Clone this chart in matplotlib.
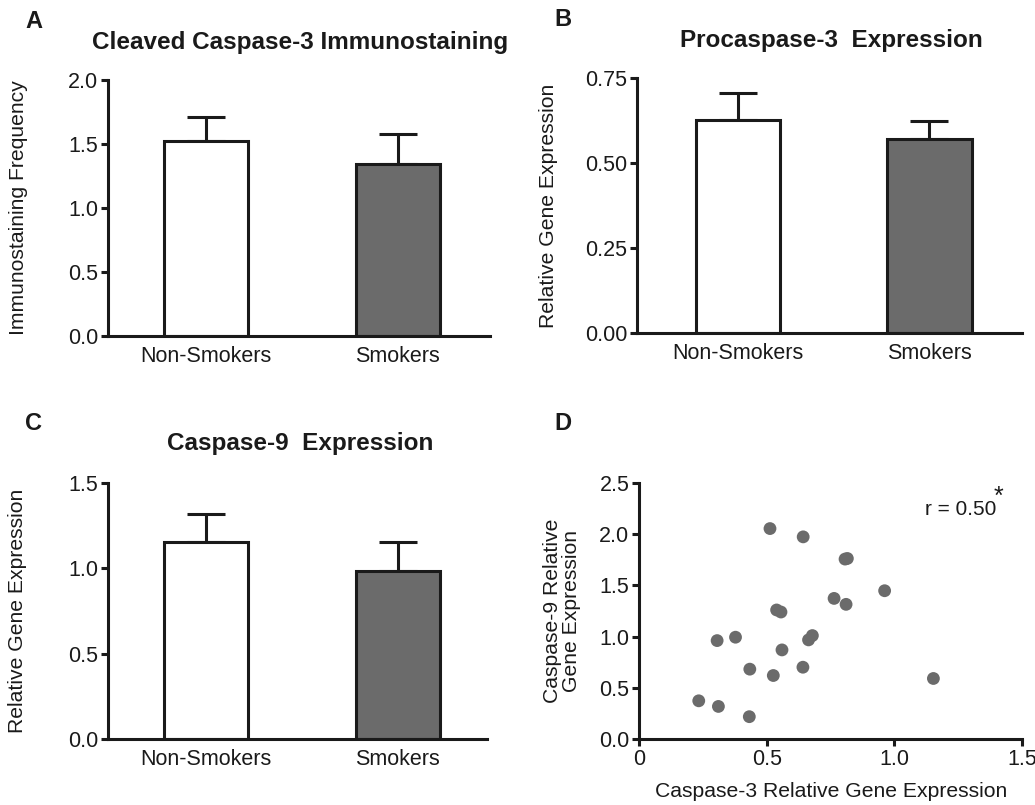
import matplotlib
matplotlib.use("Agg")
import matplotlib.pyplot as plt

plt.rcParams['font.family'] = ['Liberation Sans', 'DejaVu Sans']
plt.rcParams['mathtext.default'] = 'regular'

groups = ["Non-Smokers", "Smokers"]

# panel A - cleaved caspase-3 immunostaining
cc3_mean = [1.52, 1.34]
cc3_sem = [0.19, 0.24]
# panel B - procaspase-3
pc3_mean = [0.626, 0.571]
pc3_sem = [0.080, 0.053]
# panel C - caspase-9
c9_mean = [1.154, 0.984]
c9_sem = [0.164, 0.170]

# panel D - caspase-3 vs caspase-9
casp3 = [0.513, 0.643, 0.807, 0.816, 0.962, 0.764, 0.811, 0.539, 0.556, 0.306,
         0.378, 0.664, 0.679, 0.560, 0.434, 0.526, 0.642, 1.153, 0.234, 0.311, 0.432]
casp9 = [2.055, 1.974, 1.757, 1.763, 1.448, 1.373, 1.315, 1.260, 1.240, 0.961,
         0.994, 0.968, 1.010, 0.870, 0.682, 0.620, 0.701, 0.591, 0.373, 0.318, 0.218]

W, H = 1035, 805
GRAY = "#6b6b6b"
INK = "#1a1a1a"
LW = 2.2
TICK_FS = 15.5
LABEL_FS = 15.2

fig = plt.figure(figsize=(W / 100, H / 100), dpi=100)


def box(x0, x1, ytop, ybot):
    return [x0 / W, 1 - ybot / H, (x1 - x0) / W, (ybot - ytop) / H]


def ftext(x, y, s, **kw):
    fig.text(x / W, 1 - y / H, s, ha='center', va='center', color=INK, **kw)


def style(ax):
    for s in ['top', 'right']:
        ax.spines[s].set_visible(False)
    for s in ['left', 'bottom']:
        ax.spines[s].set_linewidth(LW)
        ax.spines[s].set_color(INK)
    ax.tick_params(axis='both', direction='out', length=5, width=LW,
                   labelsize=TICK_FS, colors=INK, pad=2)


def bar_panel(ax, means, sems, ymax, ticks, ticklabels, xlim):
    style(ax)
    ax.bar([0, 1], means, width=0.44, color=['white', GRAY],
           edgecolor=INK, linewidth=LW, zorder=2)
    ax.errorbar([0, 1], means, yerr=[[0, 0], sems], fmt='none', ecolor=INK,
                elinewidth=LW, capsize=14, capthick=LW, zorder=1)
    ax.set_ylim(0, ymax)
    ax.set_yticks(ticks)
    ax.set_yticklabels(ticklabels)
    ax.set_xlim(*xlim)
    ax.set_xticks([0, 1])
    ax.set_xticklabels(groups)
    ax.tick_params(axis='x', length=0, pad=7)


axA = fig.add_axes(box(108, 490, 80, 336))
bar_panel(axA, cc3_mean, cc3_sem, 2.0, [0, 0.5, 1.0, 1.5, 2.0],
          ["0.0", "0.5", "1.0", "1.5", "2.0"], (-0.51, 1.48))

axB = fig.add_axes(box(637, 1022, 78, 333))
bar_panel(axB, pc3_mean, pc3_sem, 0.75, [0, 0.25, 0.5, 0.75],
          ["0.00", "0.25", "0.50", "0.75"], (-0.527, 1.483))

axC = fig.add_axes(box(108, 487, 483, 739))
bar_panel(axC, c9_mean, c9_sem, 1.5, [0, 0.5, 1.0, 1.5],
          ["0.0", "0.5", "1.0", "1.5"], (-0.51, 1.465))

axD = fig.add_axes(box(639, 1022, 483, 739))
style(axD)
axD.scatter(casp3, casp9, s=85, color=GRAY, edgecolors='none', zorder=3, clip_on=False)
axD.set_xlim(0, 1.5)
axD.set_ylim(0, 2.5)
axD.set_xticks([0, 0.5, 1.0, 1.5])
axD.set_xticklabels(["0", "0.5", "1.0", "1.5"])
axD.set_yticks([0, 0.5, 1.0, 1.5, 2.0, 2.5])
axD.set_yticklabels(["0.0", "0.5", "1.0", "1.5", "2.0", "2.5"])
axD.text(1.12, 2.19, "r = 0.50", fontsize=15, color=INK, ha='left', va='baseline')
axD.text(1.39, 2.30, "*", fontsize=18, color=INK, ha='left', va='baseline')

# titles, panel letters, axis labels
ftext(300, 42, "Cleaved Caspase-3 Immunostaining", fontsize=17.5, fontweight='bold')
ftext(831, 40, "Procaspase-3  Expression", fontsize=17.5, fontweight='bold')
ftext(300, 443, "Caspase-9  Expression", fontsize=17.5, fontweight='bold')

ftext(34, 22, "A", fontsize=17, fontweight='bold')
ftext(563, 20, "B", fontsize=17, fontweight='bold')
ftext(34, 423, "C", fontsize=17, fontweight='bold')
ftext(563, 423, "D", fontsize=17, fontweight='bold')

ftext(19, 208, "Immunostaining Frequency", fontsize=LABEL_FS, rotation=90)
ftext(548, 206, "Relative Gene Expression", fontsize=LABEL_FS, rotation=90)
ftext(18, 611, "Relative Gene Expression", fontsize=LABEL_FS, rotation=90)
ftext(562, 611, "Caspase-9 Relative\nGene Expression", fontsize=LABEL_FS, rotation=90,
      linespacing=1.0)
ftext(831, 791, "Caspase-3 Relative Gene Expression", fontsize=LABEL_FS)

fig.savefig("out.png", dpi=100, facecolor='white')
